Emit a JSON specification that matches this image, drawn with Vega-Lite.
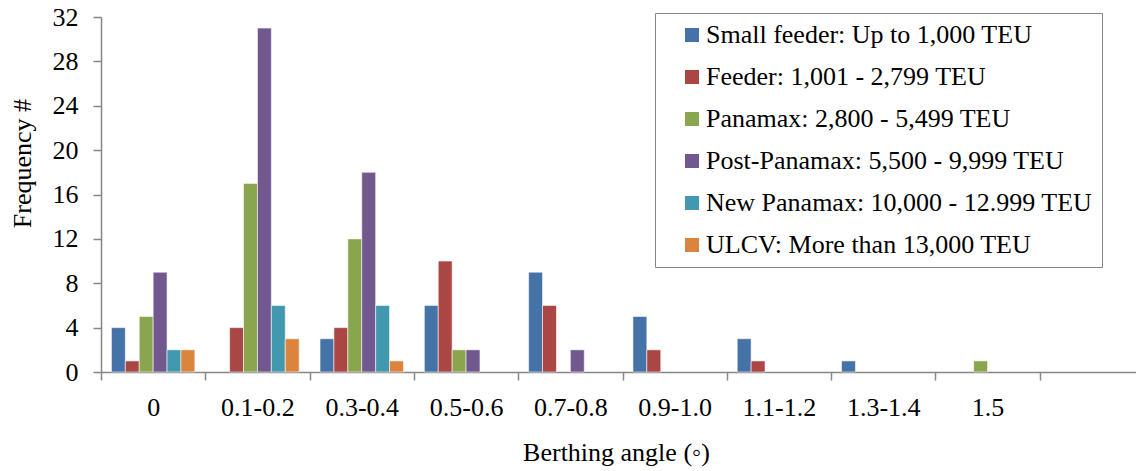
{
  "$schema": "https://vega.github.io/schema/vega-lite/v6.json",
  "width": 1035,
  "height": 355,
  "autosize": {"type": "none"},
  "padding": {"left": 101, "top": 17, "right": 0, "bottom": 99},
  "background": "white",
  "config": {
    "font": "Liberation Serif",
    "view": {"stroke": null},
    "axis": {"grid": false, "domainColor": "#868686", "domainWidth": 1.5, "tickColor": "#868686", "tickWidth": 1.5, "tickSize": 8, "labelFont": "Liberation Serif", "titleFont": "Liberation Serif", "labelFontSize": 26, "labelColor": "#000000", "titleFontSize": 26, "titleFontWeight": "normal", "titleColor": "#000000"},
    "legend": {"labelFont": "Liberation Serif", "labelFontSize": 26}
  },
  "data": {
    "values": [
      {"angle": "0", "ship": "Small feeder: Up to 1,000 TEU", "freq": 4},
      {"angle": "0", "ship": "Feeder: 1,001 - 2,799 TEU", "freq": 1},
      {"angle": "0", "ship": "Panamax: 2,800 - 5,499 TEU", "freq": 5},
      {"angle": "0", "ship": "Post-Panamax: 5,500 - 9,999 TEU", "freq": 9},
      {"angle": "0", "ship": "New Panamax: 10,000 - 12.999 TEU", "freq": 2},
      {"angle": "0", "ship": "ULCV: More than 13,000 TEU", "freq": 2},
      {"angle": "0.1-0.2", "ship": "Feeder: 1,001 - 2,799 TEU", "freq": 4},
      {"angle": "0.1-0.2", "ship": "Panamax: 2,800 - 5,499 TEU", "freq": 17},
      {"angle": "0.1-0.2", "ship": "Post-Panamax: 5,500 - 9,999 TEU", "freq": 31},
      {"angle": "0.1-0.2", "ship": "New Panamax: 10,000 - 12.999 TEU", "freq": 6},
      {"angle": "0.1-0.2", "ship": "ULCV: More than 13,000 TEU", "freq": 3},
      {"angle": "0.3-0.4", "ship": "Small feeder: Up to 1,000 TEU", "freq": 3},
      {"angle": "0.3-0.4", "ship": "Feeder: 1,001 - 2,799 TEU", "freq": 4},
      {"angle": "0.3-0.4", "ship": "Panamax: 2,800 - 5,499 TEU", "freq": 12},
      {"angle": "0.3-0.4", "ship": "Post-Panamax: 5,500 - 9,999 TEU", "freq": 18},
      {"angle": "0.3-0.4", "ship": "New Panamax: 10,000 - 12.999 TEU", "freq": 6},
      {"angle": "0.3-0.4", "ship": "ULCV: More than 13,000 TEU", "freq": 1},
      {"angle": "0.5-0.6", "ship": "Small feeder: Up to 1,000 TEU", "freq": 6},
      {"angle": "0.5-0.6", "ship": "Feeder: 1,001 - 2,799 TEU", "freq": 10},
      {"angle": "0.5-0.6", "ship": "Panamax: 2,800 - 5,499 TEU", "freq": 2},
      {"angle": "0.5-0.6", "ship": "Post-Panamax: 5,500 - 9,999 TEU", "freq": 2},
      {"angle": "0.7-0.8", "ship": "Small feeder: Up to 1,000 TEU", "freq": 9},
      {"angle": "0.7-0.8", "ship": "Feeder: 1,001 - 2,799 TEU", "freq": 6},
      {"angle": "0.7-0.8", "ship": "Post-Panamax: 5,500 - 9,999 TEU", "freq": 2},
      {"angle": "0.9-1.0", "ship": "Small feeder: Up to 1,000 TEU", "freq": 5},
      {"angle": "0.9-1.0", "ship": "Feeder: 1,001 - 2,799 TEU", "freq": 2},
      {"angle": "1.1-1.2", "ship": "Small feeder: Up to 1,000 TEU", "freq": 3},
      {"angle": "1.1-1.2", "ship": "Feeder: 1,001 - 2,799 TEU", "freq": 1},
      {"angle": "1.3-1.4", "ship": "Small feeder: Up to 1,000 TEU", "freq": 1},
      {"angle": "1.5", "ship": "Panamax: 2,800 - 5,499 TEU", "freq": 1}
    ]
  },
  "mark": {"type": "bar", "stroke": "#ffffff", "strokeWidth": 0.8, "strokeOpacity": 0.7},
  "encoding": {
    "x": {
      "field": "angle",
      "type": "nominal",
      "sort": null,
      "scale": {"domain": ["0", "0.1-0.2", "0.3-0.4", "0.5-0.6", "0.7-0.8", "0.9-1.0", "1.1-1.2", "1.3-1.4", "1.5", " "], "range": [0, 1043], "paddingInner": 0, "paddingOuter": 0},
      "axis": {"title": "Berthing angle (◦)", "labelAngle": 0, "tickBand": "extent", "labelPadding": 14, "titleX": 515, "titleY": 88, "titleBaseline": "alphabetic", "titleAlign": "center"}
    },
    "xOffset": {
      "field": "ship",
      "type": "nominal",
      "sort": null,
      "scale": {"domain": ["Small feeder: Up to 1,000 TEU", "Feeder: 1,001 - 2,799 TEU", "Panamax: 2,800 - 5,499 TEU", "Post-Panamax: 5,500 - 9,999 TEU", "New Panamax: 10,000 - 12.999 TEU", "ULCV: More than 13,000 TEU"], "paddingInner": 0, "paddingOuter": 0.75}
    },
    "y": {
      "field": "freq",
      "type": "quantitative",
      "scale": {"domain": [0, 32], "nice": false},
      "axis": {"title": "Frequency #", "values": [0, 4, 8, 12, 16, 20, 24, 28, 32], "labelPadding": 15, "titleX": -71, "titleY": 146, "titleBaseline": "alphabetic", "titleAlign": "center", "titleAngle": 270}
    },
    "color": {
      "field": "ship",
      "type": "nominal",
      "sort": null,
      "scale": {"domain": ["Small feeder: Up to 1,000 TEU", "Feeder: 1,001 - 2,799 TEU", "Panamax: 2,800 - 5,499 TEU", "Post-Panamax: 5,500 - 9,999 TEU", "New Panamax: 10,000 - 12.999 TEU", "ULCV: More than 13,000 TEU"], "range": ["#4572A7", "#AA4643", "#89A54E", "#71588F", "#4198AF", "#DB843D"]},
      "legend": {
        "title": null,
        "orient": "none",
        "legendX": 554,
        "legendY": -4,
        "padding": 9,
        "strokeColor": "#868686",
        "fillColor": "#ffffff",
        "symbolType": "square",
        "symbolSize": 196,
        "symbolStrokeWidth": 0,
        "symbolOffset": 15,
        "labelOffset": 1,
        "labelFont": "Liberation Serif",
        "labelFontSize": 26,
        "labelColor": "#000000",
        "labelLimit": 0,
        "rowPadding": 16,
        "labelExpr": "datum.label + '\u00a0\u00a0\u00a0\u00a0\u00a0'"
      }
    }
  }
}
